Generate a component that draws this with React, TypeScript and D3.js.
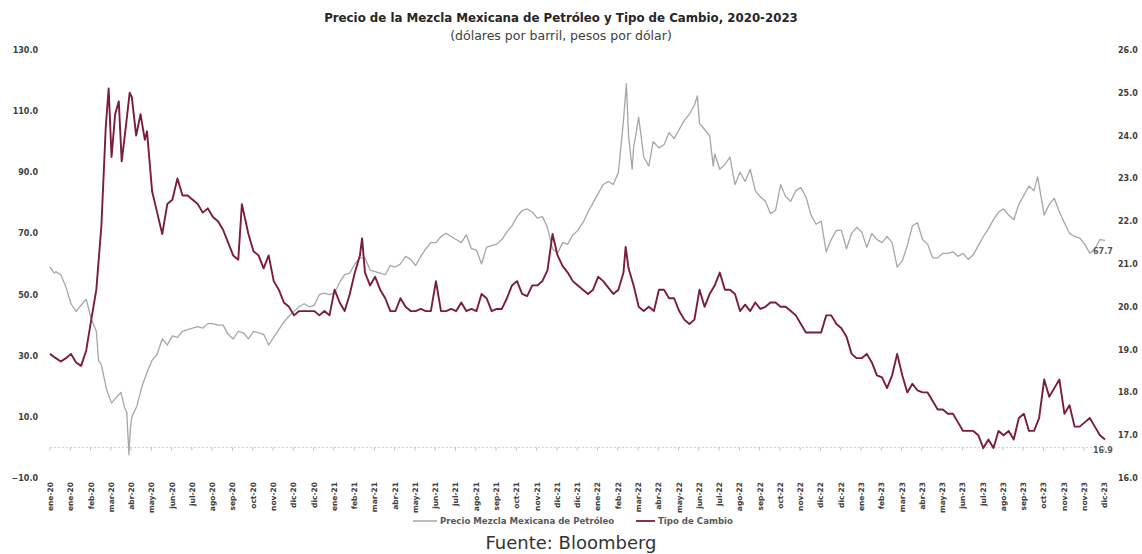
import React from "react";
import * as d3 from "d3";

const TITLE = "Precio de la Mezcla Mexicana de Petróleo y Tipo de Cambio, 2020-2023";
const SUBTITLE = "(dólares por barril, pesos por dólar)";
const SOURCE = "Fuente: Bloomberg";
const OIL_NAME = "Precio Mezcla Mexicana de Petróleo";
const FX_NAME = "Tipo de Cambio";

const leftTicks = [-10, 10, 30, 50, 70, 90, 110, 130];
const rightTicks = [16, 17, 18, 19, 20, 21, 22, 23, 24, 25, 26];

const xTickDates = [
  "2020-01-02","2020-01-30","2020-02-27","2020-03-26","2020-04-23","2020-05-21","2020-06-18","2020-07-16","2020-08-13","2020-09-10","2020-10-08","2020-11-05","2020-12-03","2020-12-31",
  "2021-01-28","2021-02-25","2021-03-25","2021-04-22","2021-05-20","2021-06-17","2021-07-15","2021-08-12","2021-09-09","2021-10-07","2021-11-04","2021-12-02","2021-12-30",
  "2022-01-27","2022-02-24","2022-03-24","2022-04-21","2022-05-19","2022-06-16","2022-07-14","2022-08-11","2022-09-08","2022-10-06","2022-11-03","2022-12-01","2022-12-29",
  "2023-01-26","2023-02-23","2023-03-23","2023-04-20","2023-05-18","2023-06-15","2023-07-13","2023-08-10","2023-09-07","2023-10-05","2023-11-02","2023-11-30","2023-12-28",
];
const xTickLabels = [
  "ene-20","ene-20","feb-20","mar-20","abr-20","may-20","jun-20","jul-20","ago-20","sep-20","oct-20","nov-20","dic-20","dic-20",
  "ene-21","feb-21","mar-21","abr-21","may-21","jun-21","jul-21","ago-21","sep-21","oct-21","nov-21","dic-21","dic-21",
  "ene-22","feb-22","mar-22","abr-22","may-22","jun-22","jul-22","ago-22","sep-22","oct-22","nov-22","dic-22","dic-22",
  "ene-23","feb-23","mar-23","abr-23","may-23","jun-23","jul-23","ago-23","sep-23","oct-23","nov-23","nov-23","dic-23",
];

const oilSeries: [string, number][] = [
  ["2020-01-02",59.0],["2020-01-08",57.0],["2020-01-10",57.5],["2020-01-17",56.5],["2020-01-24",52.5],["2020-01-31",47.0],["2020-02-07",44.5],["2020-02-14",46.5],["2020-02-21",48.5],["2020-02-28",42.0],
  ["2020-03-06",38.0],["2020-03-09",28.5],["2020-03-13",27.0],["2020-03-20",19.0],["2020-03-27",14.5],["2020-04-03",16.5],["2020-04-09",18.0],["2020-04-14",13.0],["2020-04-17",11.5],["2020-04-20",-2.4],
  ["2020-04-22",6.0],["2020-04-24",10.0],["2020-05-01",13.5],["2020-05-08",20.0],["2020-05-15",24.5],["2020-05-22",28.5],["2020-05-29",30.5],["2020-06-05",35.5],["2020-06-12",33.5],["2020-06-19",36.5],
  ["2020-06-26",36.0],["2020-07-03",38.0],["2020-07-10",38.5],["2020-07-17",39.0],["2020-07-24",39.5],["2020-07-31",39.0],["2020-08-07",40.5],["2020-08-14",40.5],["2020-08-21",40.0],["2020-08-28",40.0],
  ["2020-09-04",37.0],["2020-09-11",35.5],["2020-09-18",38.0],["2020-09-25",37.5],["2020-10-02",35.5],["2020-10-09",38.0],["2020-10-16",37.5],["2020-10-23",37.0],["2020-10-30",33.5],["2020-11-06",36.0],
  ["2020-11-13",38.5],["2020-11-20",41.0],["2020-11-27",43.0],["2020-12-04",44.5],["2020-12-11",46.0],["2020-12-18",47.0],["2020-12-25",46.0],
  ["2021-01-01",46.5],["2021-01-08",50.0],["2021-01-15",50.5],["2021-01-22",50.0],["2021-01-29",50.5],["2021-02-05",54.0],["2021-02-12",56.5],["2021-02-19",57.0],["2021-02-26",60.0],["2021-03-05",62.0],
  ["2021-03-12",62.0],["2021-03-19",58.0],["2021-03-26",57.5],["2021-04-02",57.0],["2021-04-09",56.5],["2021-04-16",59.5],["2021-04-23",59.0],["2021-04-30",60.0],["2021-05-07",62.5],["2021-05-14",61.5],
  ["2021-05-21",59.5],["2021-05-28",62.5],["2021-06-04",65.0],["2021-06-11",67.0],["2021-06-18",67.0],["2021-06-25",69.0],["2021-07-02",70.0],["2021-07-09",69.0],["2021-07-16",68.0],["2021-07-23",67.0],
  ["2021-07-30",69.5],["2021-08-06",65.0],["2021-08-13",64.5],["2021-08-20",60.0],["2021-08-27",65.5],["2021-09-03",66.0],["2021-09-10",66.5],["2021-09-17",68.0],["2021-09-24",70.5],["2021-10-01",72.5],
  ["2021-10-08",75.5],["2021-10-15",77.5],["2021-10-22",78.0],["2021-10-29",77.0],["2021-11-05",75.0],["2021-11-12",75.5],["2021-11-19",72.0],["2021-11-26",65.0],["2021-12-03",63.5],["2021-12-10",67.0],
  ["2021-12-17",66.5],["2021-12-24",69.5],["2021-12-31",71.0],
  ["2022-01-07",73.5],["2022-01-14",77.0],["2022-01-21",80.0],["2022-01-28",83.0],["2022-02-04",86.0],["2022-02-11",87.0],["2022-02-18",86.0],["2022-02-25",90.0],["2022-03-04",107.0],["2022-03-08",119.0],
  ["2022-03-11",102.0],["2022-03-16",91.0],["2022-03-18",98.0],["2022-03-25",108.0],["2022-04-01",95.0],["2022-04-08",92.0],["2022-04-14",100.0],["2022-04-22",98.0],["2022-04-29",99.0],["2022-05-06",103.0],
  ["2022-05-13",101.0],["2022-05-20",104.0],["2022-05-27",107.0],["2022-06-03",109.0],["2022-06-10",112.0],["2022-06-14",115.0],["2022-06-17",106.0],["2022-06-24",104.0],["2022-07-01",102.0],["2022-07-06",92.0],
  ["2022-07-08",96.0],["2022-07-15",91.0],["2022-07-22",92.5],["2022-07-29",95.0],["2022-08-05",86.0],["2022-08-12",90.0],["2022-08-19",87.0],["2022-08-26",91.0],["2022-09-02",84.0],["2022-09-09",82.0],
  ["2022-09-16",80.5],["2022-09-23",76.5],["2022-09-30",77.5],["2022-10-07",86.0],["2022-10-14",82.0],["2022-10-21",80.5],["2022-10-28",84.0],["2022-11-04",85.0],["2022-11-11",82.0],["2022-11-18",76.0],
  ["2022-11-25",73.0],["2022-12-02",74.0],["2022-12-09",64.0],["2022-12-16",68.0],["2022-12-23",71.0],["2022-12-30",71.0],
  ["2023-01-06",65.0],["2023-01-13",70.0],["2023-01-20",72.0],["2023-01-27",70.5],["2023-02-03",65.5],["2023-02-10",70.0],["2023-02-17",68.0],["2023-02-24",67.0],["2023-03-03",69.0],["2023-03-10",67.0],
  ["2023-03-17",59.0],["2023-03-24",61.0],["2023-03-31",66.0],["2023-04-07",72.5],["2023-04-14",73.5],["2023-04-21",68.0],["2023-04-28",66.5],["2023-05-05",62.0],["2023-05-12",62.0],["2023-05-19",63.5],
  ["2023-05-26",63.5],["2023-06-02",64.0],["2023-06-09",62.5],["2023-06-16",63.5],["2023-06-23",61.5],["2023-06-30",63.0],["2023-07-07",66.0],["2023-07-14",69.0],["2023-07-21",71.5],["2023-07-28",74.5],
  ["2023-08-04",77.0],["2023-08-11",78.0],["2023-08-18",76.0],["2023-08-25",74.5],["2023-09-01",79.5],["2023-09-08",82.5],["2023-09-15",85.5],["2023-09-22",84.0],["2023-09-27",88.5],["2023-10-06",76.0],
  ["2023-10-13",79.5],["2023-10-20",81.5],["2023-10-27",77.0],["2023-11-03",73.5],["2023-11-10",70.0],["2023-11-17",69.0],["2023-11-24",68.5],["2023-12-01",66.5],["2023-12-08",63.5],["2023-12-15",65.0],
  ["2023-12-22",68.0],["2023-12-29",67.7],
];

const fxSeries: [string, number][] = [
  ["2020-01-02",18.90],["2020-01-10",18.80],["2020-01-17",18.72],["2020-01-24",18.80],["2020-01-31",18.90],["2020-02-07",18.70],["2020-02-14",18.62],["2020-02-21",18.98],["2020-02-28",19.70],["2020-03-06",20.40],
  ["2020-03-13",21.90],["2020-03-19",24.20],["2020-03-23",25.10],["2020-03-27",23.50],["2020-04-01",24.50],["2020-04-06",24.80],["2020-04-10",23.40],["2020-04-15",24.10],["2020-04-21",25.00],["2020-04-24",24.90],
  ["2020-04-30",24.00],["2020-05-06",24.50],["2020-05-12",23.90],["2020-05-15",24.10],["2020-05-22",22.70],["2020-05-29",22.20],["2020-06-05",21.70],["2020-06-12",22.40],["2020-06-19",22.50],["2020-06-26",23.00],
  ["2020-07-03",22.60],["2020-07-10",22.60],["2020-07-17",22.50],["2020-07-24",22.40],["2020-07-31",22.20],["2020-08-07",22.30],["2020-08-14",22.10],["2020-08-21",22.00],["2020-08-28",21.80],["2020-09-04",21.50],
  ["2020-09-11",21.20],["2020-09-18",21.10],["2020-09-23",22.40],["2020-10-02",21.70],["2020-10-09",21.30],["2020-10-16",21.20],["2020-10-23",20.90],["2020-10-30",21.20],["2020-11-06",20.60],["2020-11-13",20.40],
  ["2020-11-20",20.10],["2020-11-27",20.00],["2020-12-04",19.80],["2020-12-11",19.90],["2020-12-18",19.90],["2020-12-25",19.90],
  ["2021-01-01",19.90],["2021-01-08",19.80],["2021-01-15",19.90],["2021-01-22",19.80],["2021-01-29",20.40],["2021-02-05",20.10],["2021-02-12",19.90],["2021-02-19",20.30],["2021-02-26",20.80],["2021-03-05",21.20],
  ["2021-03-08",21.60],["2021-03-12",20.80],["2021-03-19",20.50],["2021-03-26",20.70],["2021-04-02",20.40],["2021-04-09",20.20],["2021-04-16",19.90],["2021-04-23",19.90],["2021-04-30",20.20],["2021-05-07",20.00],
  ["2021-05-14",19.90],["2021-05-21",19.90],["2021-05-28",19.95],["2021-06-04",19.90],["2021-06-11",19.90],["2021-06-18",20.60],["2021-06-25",19.90],["2021-07-02",19.90],["2021-07-09",19.95],["2021-07-16",19.90],
  ["2021-07-23",20.10],["2021-07-30",19.90],["2021-08-06",19.95],["2021-08-13",19.90],["2021-08-20",20.30],["2021-08-27",20.20],["2021-09-03",19.90],["2021-09-10",19.95],["2021-09-17",19.95],["2021-09-24",20.20],
  ["2021-10-01",20.50],["2021-10-08",20.60],["2021-10-15",20.30],["2021-10-22",20.25],["2021-10-29",20.50],["2021-11-05",20.50],["2021-11-12",20.60],["2021-11-19",20.85],["2021-11-26",21.70],["2021-12-03",21.20],
  ["2021-12-10",20.95],["2021-12-17",20.80],["2021-12-24",20.60],["2021-12-31",20.50],
  ["2022-01-07",20.40],["2022-01-14",20.30],["2022-01-21",20.40],["2022-01-28",20.70],["2022-02-04",20.60],["2022-02-11",20.45],["2022-02-18",20.30],["2022-02-25",20.40],["2022-03-04",20.80],["2022-03-07",21.40],
  ["2022-03-11",20.90],["2022-03-18",20.50],["2022-03-25",20.00],["2022-04-01",19.90],["2022-04-08",20.00],["2022-04-15",19.90],["2022-04-22",20.40],["2022-04-29",20.40],["2022-05-06",20.20],["2022-05-13",20.20],
  ["2022-05-20",19.90],["2022-05-27",19.70],["2022-06-03",19.60],["2022-06-10",19.70],["2022-06-17",20.40],["2022-06-24",20.00],["2022-07-01",20.30],["2022-07-08",20.50],["2022-07-15",20.80],["2022-07-22",20.40],
  ["2022-07-29",20.40],["2022-08-05",20.30],["2022-08-12",19.90],["2022-08-19",20.05],["2022-08-26",19.90],["2022-09-02",20.10],["2022-09-09",19.95],["2022-09-16",20.00],["2022-09-23",20.10],["2022-09-30",20.10],
  ["2022-10-07",20.00],["2022-10-14",20.00],["2022-10-21",19.90],["2022-10-28",19.80],["2022-11-04",19.60],["2022-11-11",19.40],["2022-11-18",19.40],["2022-11-25",19.40],["2022-12-02",19.40],["2022-12-09",19.80],
  ["2022-12-16",19.80],["2022-12-23",19.60],["2022-12-30",19.50],
  ["2023-01-06",19.30],["2023-01-13",18.90],["2023-01-20",18.80],["2023-01-27",18.80],["2023-02-03",18.90],["2023-02-10",18.70],["2023-02-17",18.40],["2023-02-24",18.35],["2023-03-03",18.10],["2023-03-10",18.40],
  ["2023-03-17",18.90],["2023-03-24",18.40],["2023-03-31",18.00],["2023-04-07",18.20],["2023-04-14",18.05],["2023-04-21",18.00],["2023-04-28",18.00],["2023-05-05",17.80],["2023-05-12",17.60],["2023-05-19",17.60],
  ["2023-05-26",17.50],["2023-06-02",17.50],["2023-06-09",17.30],["2023-06-16",17.10],["2023-06-23",17.10],["2023-06-30",17.10],["2023-07-07",17.00],["2023-07-14",16.70],["2023-07-21",16.90],["2023-07-28",16.70],
  ["2023-08-04",17.10],["2023-08-11",17.00],["2023-08-18",17.10],["2023-08-25",16.90],["2023-09-01",17.40],["2023-09-08",17.50],["2023-09-15",17.10],["2023-09-22",17.10],["2023-09-29",17.40],["2023-10-06",18.30],
  ["2023-10-13",17.90],["2023-10-20",18.10],["2023-10-27",18.30],["2023-11-03",17.50],["2023-11-10",17.70],["2023-11-17",17.20],["2023-11-24",17.20],["2023-12-01",17.30],["2023-12-08",17.40],["2023-12-15",17.20],
  ["2023-12-22",17.00],["2023-12-29",16.90],
];

const parse = d3.timeParse("%Y-%m-%d");
const FONT = "'DejaVu Sans', Verdana, sans-serif";

export default function App() {
  const W = 1142, H = 554;
  const x = d3.scaleTime()
    .domain([parse("2020-01-02") as Date, parse("2023-12-29") as Date])
    .range([50, 1105]);
  const yL = d3.scaleLinear().domain([-10, 130]).range([478, 50]);
  const yR = d3.scaleLinear().domain([16, 26]).range([478, 50]);

  const oil = oilSeries.map(([d, v]) => ({ d: parse(d) as Date, v }));
  const fx = fxSeries.map(([d, v]) => ({ d: parse(d) as Date, v }));
  const oilLine = d3.line<{ d: Date; v: number }>().x(p => x(p.d)).y(p => yL(p.v));
  const fxLine = d3.line<{ d: Date; v: number }>().x(p => x(p.d)).y(p => yR(p.v));
  const oilLast = oil[oil.length - 1];
  const fxLast = fx[fx.length - 1];
  const axisY = yL(0);
  const fmt = d3.format(".1f");

  return (
    <div style={{ position: "absolute", left: 0, top: 0 }}>
      <svg width={W} height={H} style={{ display: "block", background: "#fff" }}>
        <text x={561} y={22} textAnchor="middle" fontFamily={FONT} fontWeight="bold" fontSize={11.8} fill="#262626">{TITLE}</text>
        <text x={561} y={40} textAnchor="middle" fontFamily={FONT} fontSize={12.5} fill="#404040">{SUBTITLE}</text>

        {leftTicks.map(t => (
          <text key={"l" + t} x={38} y={yL(t) + 3} textAnchor="end" fontFamily={FONT} fontWeight="bold" fontSize={8} fill="#404040">{fmt(t)}</text>
        ))}
        {rightTicks.map(t => (
          <text key={"r" + t} x={1118} y={yR(t) + 3} textAnchor="start" fontFamily={FONT} fontWeight="bold" fontSize={8} fill="#404040">{fmt(t)}</text>
        ))}

        <line x1={50} x2={1105} y1={axisY} y2={axisY} stroke="#cfcfcf" strokeWidth={1} strokeDasharray="2,2" />
        {xTickDates.map((d, i) => {
          const px = x(parse(d) as Date);
          return (
            <g key={"x" + i}>
              <line x1={px} x2={px} y1={axisY} y2={axisY + 3} stroke="#bfbfbf" strokeWidth={1} />
              <text transform={`translate(${px + 3},482) rotate(-90)`} textAnchor="end" fontFamily={FONT} fontWeight="bold" fontSize={7.5} fill="#404040">{xTickLabels[i]}</text>
            </g>
          );
        })}

        <path d={oilLine(oil) || ""} fill="none" stroke="#a6a6a6" strokeWidth={1.3} strokeLinejoin="round" />
        <path d={fxLine(fx) || ""} fill="none" stroke="#7b1c3a" strokeWidth={1.9} strokeLinejoin="round" />

        <text x={x(oilLast.d) - 12} y={yL(oilLast.v) + 14} fontFamily={FONT} fontWeight="bold" fontSize={8} fill="#595959">{fmt(oilLast.v)}</text>
        <text x={x(fxLast.d) - 12} y={yR(fxLast.v) + 14} fontFamily={FONT} fontWeight="bold" fontSize={8} fill="#595959">{fmt(fxLast.v)}</text>

        <line x1={413} x2={437} y1={521} y2={521} stroke="#a6a6a6" strokeWidth={1.5} />
        <text x={440} y={524} fontFamily={FONT} fontWeight="bold" fontSize={8.6} fill="#595959">{OIL_NAME}</text>
        <line x1={636} x2={655} y1={521} y2={521} stroke="#7b1c3a" strokeWidth={1.8} />
        <text x={658} y={524} fontFamily={FONT} fontWeight="bold" fontSize={8.6} fill="#595959">{FX_NAME}</text>

        <text x={571} y={549} textAnchor="middle" fontFamily={FONT} fontSize={18} fill="#333">{SOURCE}</text>
      </svg>
    </div>
  );
}
